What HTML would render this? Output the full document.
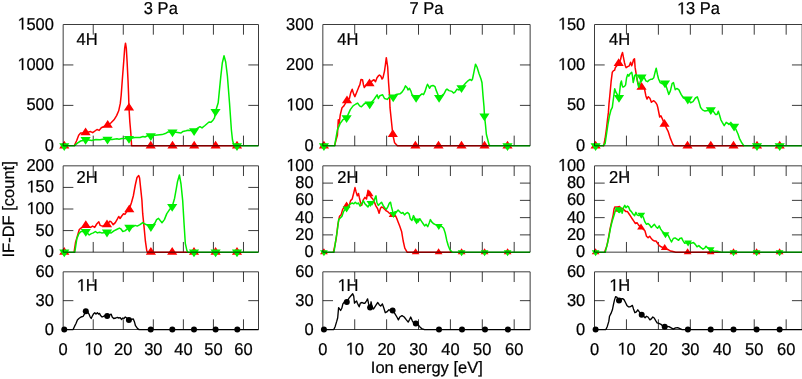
<!DOCTYPE html><html><head><meta charset="utf-8"><style>html,body{margin:0;padding:0;background:#fff;width:802px;height:379px;overflow:hidden}svg{display:block;will-change:transform}text{font-family:"Liberation Sans",sans-serif;font-size:16.5px;fill:#000;stroke:#000;stroke-width:0.22px;text-rendering:geometricPrecision}.h{fill-opacity:0;stroke-opacity:0}.one{fill:#000;stroke:#000;stroke-width:0.22px}</style></head><body>
<svg width="802" height="379" viewBox="0 0 802 379">
<path d="M93.22 145.83v-10.2M93.22 24.5v10.2M123.27 145.83v-10.2M123.27 24.5v10.2M153.32 145.83v-10.2M153.32 24.5v10.2M183.37 145.83v-10.2M183.37 24.5v10.2M213.42 145.83v-10.2M213.42 24.5v10.2M243.47 145.83v-10.2M243.47 24.5v10.2M63.17 105.39h10.2M258.5 105.39h-10.2M63.17 64.94h10.2M258.5 64.94h-10.2M354.72 145.83v-10.2M354.72 24.5v10.2M386.61 145.83v-10.2M386.61 24.5v10.2M418.51 145.83v-10.2M418.51 24.5v10.2M450.4 145.83v-10.2M450.4 24.5v10.2M482.29 145.83v-10.2M482.29 24.5v10.2M514.18 145.83v-10.2M514.18 24.5v10.2M322.83 105.39h10.2M530.13 105.39h-10.2M322.83 64.94h10.2M530.13 64.94h-10.2M626.44 145.83v-10.2M626.44 24.5v10.2M658.39 145.83v-10.2M658.39 24.5v10.2M690.33 145.83v-10.2M690.33 24.5v10.2M722.28 145.83v-10.2M722.28 24.5v10.2M754.22 145.83v-10.2M754.22 24.5v10.2M786.17 145.83v-10.2M786.17 24.5v10.2M594.5 105.39h10.2M802.14 105.39h-10.2M594.5 64.94h10.2M802.14 64.94h-10.2M93.22 252.16v-10.2M93.22 165.83v10.2M123.27 252.16v-10.2M123.27 165.83v10.2M153.32 252.16v-10.2M153.32 165.83v10.2M183.37 252.16v-10.2M183.37 165.83v10.2M213.42 252.16v-10.2M213.42 165.83v10.2M243.47 252.16v-10.2M243.47 165.83v10.2M63.17 230.58h10.2M258.5 230.58h-10.2M63.17 209h10.2M258.5 209h-10.2M63.17 187.41h10.2M258.5 187.41h-10.2M354.72 252.16v-10.2M354.72 165.83v10.2M386.61 252.16v-10.2M386.61 165.83v10.2M418.51 252.16v-10.2M418.51 165.83v10.2M450.4 252.16v-10.2M450.4 165.83v10.2M482.29 252.16v-10.2M482.29 165.83v10.2M514.18 252.16v-10.2M514.18 165.83v10.2M322.83 234.89h10.2M530.13 234.89h-10.2M322.83 217.63h10.2M530.13 217.63h-10.2M322.83 200.36h10.2M530.13 200.36h-10.2M322.83 183.1h10.2M530.13 183.1h-10.2M626.44 252.16v-10.2M626.44 165.83v10.2M658.39 252.16v-10.2M658.39 165.83v10.2M690.33 252.16v-10.2M690.33 165.83v10.2M722.28 252.16v-10.2M722.28 165.83v10.2M754.22 252.16v-10.2M754.22 165.83v10.2M786.17 252.16v-10.2M786.17 165.83v10.2M594.5 234.89h10.2M802.14 234.89h-10.2M594.5 217.63h10.2M802.14 217.63h-10.2M594.5 200.36h10.2M802.14 200.36h-10.2M594.5 183.1h10.2M802.14 183.1h-10.2M93.22 329.5v-10.2M93.22 271.82v10.2M123.27 329.5v-10.2M123.27 271.82v10.2M153.32 329.5v-10.2M153.32 271.82v10.2M183.37 329.5v-10.2M183.37 271.82v10.2M213.42 329.5v-10.2M213.42 271.82v10.2M243.47 329.5v-10.2M243.47 271.82v10.2M63.17 300.66h10.2M258.5 300.66h-10.2M354.72 329.5v-10.2M354.72 271.82v10.2M386.61 329.5v-10.2M386.61 271.82v10.2M418.51 329.5v-10.2M418.51 271.82v10.2M450.4 329.5v-10.2M450.4 271.82v10.2M482.29 329.5v-10.2M482.29 271.82v10.2M514.18 329.5v-10.2M514.18 271.82v10.2M322.83 300.66h10.2M530.13 300.66h-10.2M626.44 329.5v-10.2M626.44 271.82v10.2M658.39 329.5v-10.2M658.39 271.82v10.2M690.33 329.5v-10.2M690.33 271.82v10.2M722.28 329.5v-10.2M722.28 271.82v10.2M754.22 329.5v-10.2M754.22 271.82v10.2M786.17 329.5v-10.2M786.17 271.82v10.2M594.5 300.66h10.2M802.14 300.66h-10.2" fill="none" stroke="#3c3c3c" stroke-width="1"/>
<polyline points="74.2,145.83 76.6,140.7 78.7,135.2 80.6,133.1 83,133 85.6,132.7 90.6,131.6 92.7,132.7 97,129.5 99.2,130.4 101.3,127.7 103.4,126.7 107.7,125.1 110.8,123 114,119.8 116.6,115.6 118.7,110.8 120.3,103.4 121.2,95 122.3,80 123.7,61.7 124.7,48 125.5,43.2 126.3,48 127.1,61.7 128,80 128.6,95 129,108.2 129.8,121.4 130.9,134 131.6,145.83 234,145.83" fill="none" stroke="#ff0000" stroke-width="1.5" stroke-linejoin="round"/>
<path d="M64.27 140.63L69.37 148.43L59.17 148.43ZM85.6 127.5L90.7 135.3L80.5 135.3ZM107.7 119.9L112.8 127.7L102.6 127.7ZM129 102.8L134.1 110.6L123.9 110.6ZM150.7 140.63L155.8 148.43L145.6 148.43ZM172.5 140.63L177.6 148.43L167.4 148.43ZM194.2 140.63L199.3 148.43L189.1 148.43ZM215.6 140.63L220.7 148.43L210.5 148.43ZM237 140.63L242.1 148.43L231.9 148.43Z" fill="#ff0000"/>
<polyline points="63.17,145.83 74.2,145.83 77.4,143.1 80.6,141 83,140.4 85.6,139.5 91.7,140.6 95.9,139.6 100,139.8 104,139 107.5,139.4 112,139.5 117,138.8 119,139.2 122,138.5 129,138.6 135,137.6 140,137.5 143,136.5 145,137 148,135.5 150.8,135.8 155,135.3 162,134.6 166,133.2 168,132 172.5,132 176,132.3 181,133 183,131.4 186,130.8 188,130.2 194.1,130.8 198,127.9 200,126.7 202,127.9 205,125.5 207,123.7 209,122 211,122.3 213,120.2 214.5,117.8 215.5,111.5 218.2,102.8 220.8,76.4 222.3,63 224,55.8 225.7,62 227.4,76 229.5,102.8 231.4,130 232.5,140 234,145.83 258.5,145.83" fill="none" stroke="#00f000" stroke-width="1.5" stroke-linejoin="round"/>
<path d="M64.27 151.03L69.37 143.23L59.17 143.23ZM85.6 144.7L90.7 136.9L80.5 136.9ZM107.5 144.6L112.6 136.8L102.4 136.8ZM129 143.8L134.1 136L123.9 136ZM150.8 141L155.9 133.2L145.7 133.2ZM172.5 137.2L177.6 129.4L167.4 129.4ZM194.1 136L199.2 128.2L189 128.2ZM215.5 116.7L220.6 108.9L210.4 108.9ZM237 151.03L242.1 143.23L231.9 143.23Z" fill="#00f000"/>
<polyline points="334.6,145.83 336,140 337.4,135.4 338.3,119.7 339.2,123.4 340.2,115.1 342,107.7 343.9,105.9 347,100.7 349.4,98.5 350.7,92.9 352.2,89.2 353.6,93.9 354.9,96.6 356.8,92 358.6,87.4 359.9,84.6 361,79.5 362.5,79.7 363.5,85 364.3,87.5 366,85 369.5,83.6 372,81 374,79.7 375.5,81.7 377,77.7 378.5,75.7 379.5,75 381,76.4 382,79 383,77.7 384.5,71.1 385.5,64 386.3,57.7 387.7,67.2 388.6,83 389.6,96.2 390,107.7 391.5,122 392.8,134.5 394.6,142.8 397.4,145.83 490,145.83" fill="none" stroke="#ff0000" stroke-width="1.5" stroke-linejoin="round"/>
<path d="M323.93 140.63L329.03 148.43L318.83 148.43ZM347 95.5L352.1 103.3L341.9 103.3ZM369.5 78.4L374.6 86.2L364.4 86.2ZM392.8 129.3L397.9 137.1L387.7 137.1ZM415.4 140.63L420.5 148.43L410.3 148.43ZM438.5 140.63L443.6 148.43L433.4 148.43ZM461.5 140.63L466.6 148.43L456.4 148.43ZM484.5 140.63L489.6 148.43L479.4 148.43ZM507.5 140.63L512.6 148.43L502.4 148.43Z" fill="#ff0000"/>
<polyline points="322.83,145.83 334.6,145.83 336,138 337.4,129.9 340.2,123.4 342.9,119.7 346.6,117.9 350.3,109.6 353.1,105.9 355.9,104 357.7,103.1 359.6,105.9 361.4,106.8 363.2,104.9 365.1,103.1 369.7,104 373.4,100.3 375.3,97.5 377.1,94.8 378.4,98.5 379.9,95.7 382.6,94.8 384.5,98.5 387.3,99.4 390,96.2 393.2,97 396,94.6 400,93.8 402,92.2 404,89.1 405.5,85.9 407,87.5 408,89.9 409.5,88.3 411,91.4 412,94.6 416.1,97.5 420,95.4 422,93.8 423.5,94.6 425,91.4 426.5,86.7 427.5,84.3 428.5,85.9 429.5,88.3 431,85.9 433,85.4 435,86.7 436,89.9 439.1,97.5 442,95.4 444,93.8 446,89.9 447,89.1 449,90.6 452,91.4 453.5,93 455,92.2 457,89.1 459,90 461.5,87.8 466,82.7 468,80.8 470,79.4 471.5,80.5 472.5,79 474,71.6 475.5,64.2 477,67 479,73.5 481,79 482,82.7 483,95.6 484,106.7 484.5,115.9 485.5,125 486.4,134.5 489,144.5 490,145.83 530.13,145.83" fill="none" stroke="#00f000" stroke-width="1.5" stroke-linejoin="round"/>
<path d="M323.93 151.03L329.03 143.23L318.83 143.23ZM346.6 123.1L351.7 115.3L341.5 115.3ZM369.7 109.2L374.8 101.4L364.6 101.4ZM393.2 102.2L398.3 94.4L388.1 94.4ZM416.1 102.7L421.2 94.9L411 94.9ZM439.1 102.7L444.2 94.9L434 94.9ZM461.5 93L466.6 85.2L456.4 85.2ZM484.4 121.2L489.5 113.4L479.3 113.4ZM507.5 151.03L512.6 143.23L502.4 143.23Z" fill="#00f000"/>
<polyline points="602.9,145.83 603.6,145.83 605.1,138.5 606.5,128.3 607.5,119.6 608.4,112.4 609,103.7 609.8,95.9 611.1,81.7 612.3,72.2 613.5,70.6 614.6,70.3 615.4,67.4 618.7,63.5 620.6,59.5 621.4,55.5 622.5,52.4 623.4,57.1 624.5,62.7 625.3,65.8 626.1,67.7 627.7,66.6 629.3,65.8 630.6,62.3 631.7,65.8 632.5,63.5 633.6,59.5 634.5,58.7 635.1,67.4 636.1,73.7 637.2,80.1 638,83.2 641.5,87.2 644.3,88 645.9,95.9 647,99.1 648.3,96.7 649.9,98.3 651.4,102.2 653.8,100.7 655.4,102.2 657,104.6 657.8,107.5 659.7,117 660.9,115.8 662.6,119.4 664.5,124.1 668.1,131.3 670.4,138.4 672.8,144.3 674,145.83 744,145.83" fill="none" stroke="#ff0000" stroke-width="1.5" stroke-linejoin="round"/>
<path d="M595.6 140.63L600.7 148.43L590.5 148.43ZM618.7 58.3L623.8 66.1L613.6 66.1ZM641.5 82L646.6 89.8L636.4 89.8ZM664.5 118.9L669.6 126.7L659.4 126.7ZM687.5 140.63L692.6 148.43L682.4 148.43ZM710.8 140.63L715.9 148.43L705.7 148.43ZM733.5 140.63L738.6 148.43L728.4 148.43ZM757 140.63L762.1 148.43L751.9 148.43ZM779.7 140.63L784.8 148.43L774.6 148.43Z" fill="#ff0000"/>
<polyline points="594.5,145.83 602.9,145.83 605.1,143.6 606.5,134.1 608,124 609.4,116 610.9,110.2 612.3,107.3 613.5,98 614.7,88.8 615.8,92 619,97.5 619.8,90.4 620.6,83.2 621.4,80.9 622.2,85.6 623,87.2 624.5,86.4 625.6,84.8 626.6,77.7 627.7,74.5 628.8,76.1 630.1,73.7 631.7,72.2 632.5,76.1 633.2,82.5 634,79.3 634.8,75.3 636.1,74.5 637.2,79.3 638,84.8 638.8,87.2 641.5,77.2 644.3,77.7 645.9,80.9 647.5,81.7 649.1,80.1 650.7,79.3 652.2,79.3 653.8,77.7 655.1,72.2 656.2,68.2 657.4,74.2 658.6,79 660.2,82.6 662.1,83.7 665,83 666.9,88.5 668.8,94.4 670.4,90.9 672.1,83.7 673.5,82.6 675.2,89.7 676.8,88.5 678.8,89.7 681.1,94.4 683.5,98 687.8,99.2 690.6,102.7 693,101.6 695.4,98 697.3,96.8 698.9,101.6 700.6,107.5 702.5,109.9 704.9,111.1 710.8,109.9 713.2,111.1 715.6,114.6 717,114.5 718.3,111.2 719.6,115.2 720.9,119.8 722.3,122.4 724.2,125.7 726.2,122.4 727.5,123.1 728.9,124.4 730.8,122.4 734.1,126.4 736.1,129.7 738.1,134.3 739.4,138.3 741.4,142.2 744,145.83 802.14,145.83" fill="none" stroke="#00f000" stroke-width="1.5" stroke-linejoin="round"/>
<path d="M595.6 151.03L600.7 143.23L590.5 143.23ZM619 102.7L624.1 94.9L613.9 94.9ZM641.5 82.4L646.6 74.6L636.4 74.6ZM665 88.2L670.1 80.4L659.9 80.4ZM687.8 104.4L692.9 96.6L682.7 96.6ZM710.8 115.1L715.9 107.3L705.7 107.3ZM734.1 131.6L739.2 123.8L729 123.8ZM757 151.03L762.1 143.23L751.9 143.23ZM779.7 151.03L784.8 143.23L774.6 143.23Z" fill="#00f000"/>
<polyline points="74.1,252.16 75.5,242.5 77.5,235.7 79.3,229.5 81,228.1 85.8,225.4 90.6,227.4 92.6,226.1 94.7,227.4 96.7,224 98.8,221.7 100.2,225.4 102.2,226.1 107,224.7 109.8,221.3 111.2,221.9 113.2,224.7 115.3,222.6 117.3,219.2 118.7,216.5 120.1,218.5 121.4,216.5 123.5,213.7 124.9,214.4 126.2,212.3 129.3,208.9 131.5,202.5 133.3,196 135.3,185 137,177.5 138.7,175.6 139.6,178.1 140.7,188.7 141.9,200 142.7,213.7 144.1,227.4 145.4,241.2 146.8,250.8 147.5,252.16 188,252.16" fill="none" stroke="#ff0000" stroke-width="1.5" stroke-linejoin="round"/>
<path d="M64.27 246.96L69.37 254.76L59.17 254.76ZM85.8 220.2L90.9 228L80.7 228ZM107 219.5L112.1 227.3L101.9 227.3ZM129.3 204.4L134.4 212.2L124.2 212.2ZM150.9 246.96L156 254.76L145.8 254.76ZM172.2 246.96L177.3 254.76L167.1 254.76ZM194 246.96L199.1 254.76L188.9 254.76ZM215.6 246.96L220.7 254.76L210.5 254.76ZM237 246.96L242.1 254.76L231.9 254.76Z" fill="#ff0000"/>
<polyline points="63.17,252.16 74.8,252.16 76.9,238.4 78.9,233.6 81,231.5 85.8,231.5 89.2,235 91.3,233.6 93.3,232.9 95.4,231.5 97.4,232.9 99.5,232.2 101.6,232.9 107,232.2 111.2,232.9 113.9,230.9 116.6,229.5 119.4,228.1 120.8,228.8 122.8,231.5 124.9,230.9 129.3,227.4 133.1,226.7 135.2,225.4 137.2,226.1 140,224.7 142.7,222.6 144.8,224 148.2,225.4 150.9,226.7 154.9,223.1 156.6,219.6 158.5,218.4 160.4,220.8 162,222.7 164.4,219.6 166.8,213.6 169.2,210.1 172.2,206.5 174.6,198.2 176.3,188.7 177.5,181.6 179.4,175 181,184 182.7,200.6 184.1,224.3 185.3,243.3 187,250.8 188,252.16 258.5,252.16" fill="none" stroke="#00f000" stroke-width="1.5" stroke-linejoin="round"/>
<path d="M64.27 257.36L69.37 249.56L59.17 249.56ZM85.8 236.7L90.9 228.9L80.7 228.9ZM107 237.4L112.1 229.6L101.9 229.6ZM129.3 232.6L134.4 224.8L124.2 224.8ZM150.9 231.9L156 224.1L145.8 224.1ZM172.2 211.7L177.3 203.9L167.1 203.9ZM194 257.36L199.1 249.56L188.9 249.56ZM215.6 257.36L220.7 249.56L210.5 249.56ZM237 257.36L242.1 249.56L231.9 249.56Z" fill="#00f000"/>
<polyline points="333.4,252.16 335,245 336.3,238 337.9,224.4 339.5,216.4 341.1,214.9 342.7,209.3 344.3,206.9 346.6,205.4 349,206.1 350.6,200.6 352.2,199 353.8,192.7 355,187.6 356.1,191.9 357.3,195.8 358.5,193.5 359.3,197.4 360.4,202.2 361.7,205.4 363.3,199.8 364.9,197.4 366.5,199 368,190.3 369.6,194.3 371.2,197.4 372.8,199 374.4,202.2 376,206.1 377.5,208.5 379.1,213.3 380.4,208.5 381.5,206.9 383.1,207.7 384.7,209.3 386.3,210.9 387.8,211.7 389.4,213.3 392.6,214.9 395,214.9 396.6,218 398.1,222 399.7,226 401.6,231.4 403.2,241 404.8,248.1 407.1,252.16 452.3,252.16" fill="none" stroke="#ff0000" stroke-width="1.5" stroke-linejoin="round"/>
<path d="M323.93 248.16L327.83 254.16L320.03 254.16ZM346.6 201.4L350.5 207.4L342.7 207.4ZM369.6 190.3L373.5 196.3L365.7 196.3ZM392.6 210.9L396.5 216.9L388.7 216.9ZM415.6 248.16L419.5 254.16L411.7 254.16ZM438.6 248.16L442.5 254.16L434.7 254.16ZM461.6 248.16L465.5 254.16L457.7 254.16ZM484.6 248.16L488.5 254.16L480.7 254.16ZM507.6 248.16L511.5 254.16L503.7 254.16Z" fill="#ff0000"/>
<polyline points="322.83,252.16 334,252.16 335.8,240 337.1,232 338.7,219.6 340.3,218 341.9,216.4 343.5,211.7 345.1,209.3 346.6,208.5 349,205.4 350.6,203.8 352.2,203 353.8,203.8 355.3,202.2 356.9,203.8 358.5,203 360.1,206.1 361.7,203.8 363.3,200.6 364.9,203.8 366.5,205.4 368,206.9 370.4,203 372,204.6 373.6,202.2 375.2,197.4 376,195.8 376.8,202.2 378.3,205.4 379.9,203.8 381.5,202.2 383.1,205.4 384.7,207.7 386.3,209.3 387.8,206.9 389.4,203 390.5,202.2 391.5,206.9 393.4,214.1 395,211.7 396.6,211.7 398.1,210.1 399.7,211.7 401.3,213.3 402.9,212.5 404.5,214.9 406,213.3 407.6,212.5 409.2,214.1 410.3,218.8 411.9,220.4 413.5,215.6 415.1,218.8 416.6,220.4 418.2,221.9 419.8,218.8 421.4,221.1 423,223.5 424.6,225.9 426.1,224.3 427.7,226.7 429.3,222.7 430.4,219.6 431.7,221.9 433.3,223.5 434.9,224.3 436.4,225.1 438.8,225.9 440.4,225.9 442,226.7 443.6,228.3 445.2,233 446.7,240.2 448.3,245.7 449.9,249.7 452.3,252.16 530.13,252.16" fill="none" stroke="#00f000" stroke-width="1.5" stroke-linejoin="round"/>
<path d="M323.93 256.16L327.83 250.16L320.03 250.16ZM346.6 212.5L350.5 206.5L342.7 206.5ZM370.4 207L374.3 201L366.5 201ZM393.4 218.1L397.3 212.1L389.5 212.1ZM416.6 224.4L420.5 218.4L412.7 218.4ZM438.8 229.9L442.7 223.9L434.9 223.9ZM461.6 256.16L465.5 250.16L457.7 250.16ZM484.6 256.16L488.5 250.16L480.7 250.16ZM507.6 256.16L511.5 250.16L503.7 250.16Z" fill="#00f000"/>
<polyline points="604.5,252.16 606.9,245.7 608.5,237.8 610,229.1 611.6,221.9 613.2,214.8 614,209.3 614.8,206.9 616.4,206.9 618,206.9 619.6,206.4 621.1,209.3 622.7,208.5 624.3,210.1 625.9,211.6 627.5,211.6 629.1,214 630.7,216.4 632.2,218.8 633.8,221.1 635.4,223.5 637,222.7 638.6,225.1 641,227.5 643.3,229.1 644.9,230.7 646.5,236.2 648.1,237.8 649.7,236.2 651.3,238.6 652.8,240.2 654.4,241 656,241 657.6,243.3 659.2,245.7 660.7,246.5 662.3,247.3 664.7,248.1 666.8,249.2 668.6,249.8 670.3,251 672,251.3 675.7,252.16 720.8,252.16" fill="none" stroke="#ff0000" stroke-width="1.5" stroke-linejoin="round"/>
<path d="M595.6 248.16L599.5 254.16L591.7 254.16ZM618.2 205.8L622.1 211.8L614.3 211.8ZM641 223.5L644.9 229.5L637.1 229.5ZM664.7 244.1L668.6 250.1L660.8 250.1ZM687.6 248.16L691.5 254.16L683.7 254.16ZM710.7 248.16L714.6 254.16L706.8 254.16ZM733.5 248.16L737.4 254.16L729.6 254.16ZM756.6 248.16L760.5 254.16L752.7 254.16ZM779.6 248.16L783.5 254.16L775.7 254.16Z" fill="#ff0000"/>
<polyline points="594.5,252.16 605.3,252.16 607.7,242.5 609.3,234.6 610.8,226.7 612.4,220.4 614,215.6 615.3,210.8 616.4,208.5 618.5,209.3 619.6,212.4 621.1,209.3 622.2,213.2 623.5,207.7 624.8,205.3 625.9,207.7 627.5,206.1 628.6,206.9 629.9,210.1 631.4,211.6 633,214 634.6,215.6 635.9,212.4 637,214.8 638.6,215.6 641.3,214.8 643.3,217.2 644.9,221.9 646.5,224.3 648.1,223.5 649.7,225.1 651.3,227.5 652.8,225.9 654.4,224.3 656,226.7 657.6,228.3 659.2,225.9 660.7,229.1 662.3,231.4 665.5,234.3 668,234.9 669.7,238.5 671.5,242 673.3,238.5 675.1,237.9 676.9,239.1 678.6,240.3 679.8,238.5 681.6,237.9 682.8,240.3 684.6,243.2 688.1,242.6 691.1,243.2 693.5,242.6 695.3,244.4 697,246.8 698.8,245.6 700.6,247.4 703,249.2 704.8,248 706,246.2 707.7,248 710.7,249.2 713.7,251 717.2,251.3 720.8,252.16 802.14,252.16" fill="none" stroke="#00f000" stroke-width="1.5" stroke-linejoin="round"/>
<path d="M595.6 256.16L599.5 250.16L591.7 250.16ZM618.5 213.3L622.4 207.3L614.6 207.3ZM641.3 218.8L645.2 212.8L637.4 212.8ZM665.5 238.3L669.4 232.3L661.6 232.3ZM688.1 246.6L692 240.6L684.2 240.6ZM710.7 253.2L714.6 247.2L706.8 247.2ZM733.5 256.16L737.4 250.16L729.6 250.16ZM756.6 256.16L760.5 250.16L752.7 250.16ZM779.6 256.16L783.5 250.16L775.7 250.16Z" fill="#00f000"/>
<polyline points="63.17,329.6 73.1,329.6 74.5,326.4 76,323.5 77.4,319.9 78.9,318.5 81,317 83.2,316.3 84.4,314.1 85.8,311.2 87.6,311.9 89,314.1 90.2,317 91.2,318.5 92.2,316.3 93.4,314.1 94.8,312.7 96,314.1 97.4,312.7 98.5,314.1 99.5,313.4 100.6,315.6 102.1,317 103.5,316.3 105,315.6 107.2,316 109.3,315.6 111.1,314.1 112.2,317 113.7,318.5 115.9,318 117.3,317.4 118.8,318 120.2,317.7 121.7,319.5 122.7,318 123.9,318.5 125.3,317 126.8,318 128.9,319.9 131.1,319.5 133.3,318.9 134.3,321.4 135.5,325.7 137.6,328.6 139.1,329.6 258.5,329.6" fill="none" stroke="#000" stroke-width="1.35" stroke-linejoin="round"/>
<g fill="#000"><circle cx="64.27" cy="329.6" r="3"/><circle cx="85.8" cy="311.2" r="3"/><circle cx="107.2" cy="316" r="3"/><circle cx="128.9" cy="319.9" r="3"/><circle cx="150.7" cy="329.6" r="3"/><circle cx="172.3" cy="329.6" r="3"/><circle cx="194" cy="329.6" r="3"/><circle cx="215.6" cy="329.6" r="3"/><circle cx="237.3" cy="329.6" r="3"/></g>
<polyline points="322.83,329.6 333.8,329.6 335.2,326.4 336.7,321.4 337.7,317.7 338.6,307.6 339.6,309 340.6,310.5 341.8,308.3 342.9,303.9 344.4,301.8 346.8,302.1 349,298.1 350.8,296 352.7,293.8 353.7,296 354.5,303.2 355.6,301.8 356.6,301 357.4,303.2 358.5,305.4 359.2,306.8 360.3,303.2 362.1,302.5 363.5,303.2 365,303.2 366.4,301 367.6,298.9 368.6,303.9 370.1,307.6 371.1,301.8 372,306.8 373.4,309 374.9,306.8 376.3,304.7 377.8,302.5 379.2,304.7 380.7,306.1 382.4,303.9 383.9,308.3 385.3,312.7 386.8,311.9 388.9,309.8 392.6,310.5 394.7,313.4 396.9,317 398.4,319.9 399.8,317 402,315.6 404.2,317 406.4,319.9 408.2,322.1 409.7,319.2 410.7,317 412.2,320.6 413.6,322.8 415.8,323.5 418,324.3 419.4,326.4 421.6,328.6 424.5,329.6 530.13,329.6" fill="none" stroke="#000" stroke-width="1.35" stroke-linejoin="round"/>
<g fill="#000"><circle cx="323.93" cy="329.6" r="3"/><circle cx="346.8" cy="302.1" r="3"/><circle cx="370.1" cy="307.6" r="3"/><circle cx="392.6" cy="310.5" r="3"/><circle cx="415.8" cy="323.5" r="3"/><circle cx="439" cy="329.6" r="3"/><circle cx="462" cy="329.6" r="3"/><circle cx="485" cy="329.6" r="3"/><circle cx="507.9" cy="329.6" r="3"/></g>
<polyline points="594.5,329.6 605.9,329.6 607.3,326.4 608.8,321.4 609.5,316.3 611,313.4 612.4,309.8 613.6,303.9 614.6,299.6 615.6,296.7 616.8,297.1 619,300.6 620.8,298.9 622.6,298.6 624,299.6 625.5,302.5 626.9,305.4 628.4,306.8 629.8,306.8 631.3,306.1 632.4,305.4 633.5,309 634.9,312.7 636.4,311.9 637.8,309.8 639.3,311.9 641.7,314.8 643.6,316.3 645.1,317.7 646.5,316.3 648,317 649.9,319.9 651.3,318.9 652.8,317 654.2,318 655.7,320.6 657.1,322.8 658.9,323.3 661,324.3 662.9,326.4 664.7,326.7 666.8,326.4 669,326.7 671.2,327.9 673.4,329.1 675.5,327.9 677.7,327.6 679.9,328.6 682.1,329.6 802.14,329.6" fill="none" stroke="#000" stroke-width="1.35" stroke-linejoin="round"/>
<g fill="#000"><circle cx="595.6" cy="329.6" r="3"/><circle cx="619" cy="300.6" r="3"/><circle cx="641.7" cy="314.8" r="3"/><circle cx="664.7" cy="326.7" r="3"/><circle cx="687.9" cy="329.6" r="3"/><circle cx="710.7" cy="329.6" r="3"/><circle cx="733.5" cy="329.6" r="3"/><circle cx="756.6" cy="329.6" r="3"/><circle cx="779.6" cy="329.6" r="3"/></g>
<path d="M63.17 24.5H258.5V145.83H63.17ZM322.83 24.5H530.13V145.83H322.83ZM594.5 24.5H802.14V145.83H594.5ZM63.17 165.83H258.5V252.16H63.17ZM322.83 165.83H530.13V252.16H322.83ZM594.5 165.83H802.14V252.16H594.5ZM63.17 271.82H258.5V329.5H63.17ZM322.83 271.82H530.13V329.5H322.83ZM594.5 271.82H802.14V329.5H594.5Z" fill="none" stroke="#3c3c3c" stroke-width="1" style="mix-blend-mode:multiply"/>
<g class="t"><text transform="translate(143.86 14.2) scale(1 1.0412)">3 Pa</text><text transform="translate(409.51 14.2) scale(1 1.0412)">7 Pa</text><text transform="translate(676.76 14.2) scale(1 1.0412)"><tspan class="h">1</tspan>3 Pa</text><text transform="translate(44.74 150.88) scale(1 1.0412)">0</text><text transform="translate(26.39 110.44) scale(1 1.0412)">500</text><text transform="translate(17.21 69.99) scale(1 1.0412)"><tspan class="h">1</tspan>000</text><text transform="translate(17.21 29.55) scale(1 1.0412)"><tspan class="h">1</tspan>500</text><text transform="translate(76.52 45.1) scale(1 1.0412)">4H</text><text transform="translate(304.4 150.88) scale(1 1.0412)">0</text><text transform="translate(286.05 110.44) scale(1 1.0412)"><tspan class="h">1</tspan>00</text><text transform="translate(286.05 69.99) scale(1 1.0412)">200</text><text transform="translate(286.05 29.55) scale(1 1.0412)">300</text><text transform="translate(337.33 45.1) scale(1 1.0412)">4H</text><text transform="translate(576.07 150.88) scale(1 1.0412)">0</text><text transform="translate(566.9 110.44) scale(1 1.0412)">50</text><text transform="translate(557.72 69.99) scale(1 1.0412)"><tspan class="h">1</tspan>00</text><text transform="translate(557.72 29.55) scale(1 1.0412)"><tspan class="h">1</tspan>50</text><text transform="translate(609 45.1) scale(1 1.0412)">4H</text><text transform="translate(44.74 257.21) scale(1 1.0412)">0</text><text transform="translate(35.57 235.63) scale(1 1.0412)">50</text><text transform="translate(26.39 214.05) scale(1 1.0412)"><tspan class="h">1</tspan>00</text><text transform="translate(26.39 192.46) scale(1 1.0412)"><tspan class="h">1</tspan>50</text><text transform="translate(26.39 170.88) scale(1 1.0412)">200</text><text transform="translate(76.52 182.9) scale(1 1.0412)">2H</text><text transform="translate(304.4 257.21) scale(1 1.0412)">0</text><text transform="translate(295.23 239.94) scale(1 1.0412)">20</text><text transform="translate(295.23 222.68) scale(1 1.0412)">40</text><text transform="translate(295.23 205.41) scale(1 1.0412)">60</text><text transform="translate(295.23 188.15) scale(1 1.0412)">80</text><text transform="translate(286.05 170.88) scale(1 1.0412)"><tspan class="h">1</tspan>00</text><text transform="translate(337.33 182.9) scale(1 1.0412)">2H</text><text transform="translate(576.07 257.21) scale(1 1.0412)">0</text><text transform="translate(566.9 239.94) scale(1 1.0412)">20</text><text transform="translate(566.9 222.68) scale(1 1.0412)">40</text><text transform="translate(566.9 205.41) scale(1 1.0412)">60</text><text transform="translate(566.9 188.15) scale(1 1.0412)">80</text><text transform="translate(557.72 170.88) scale(1 1.0412)"><tspan class="h">1</tspan>00</text><text transform="translate(609 182.9) scale(1 1.0412)">2H</text><text transform="translate(44.74 334.55) scale(1 1.0412)">0</text><text transform="translate(35.57 305.71) scale(1 1.0412)">30</text><text transform="translate(35.57 276.87) scale(1 1.0412)">60</text><text transform="translate(76.52 291.12) scale(1 1.0412)"><tspan class="h">1</tspan>H</text><text transform="translate(304.4 334.55) scale(1 1.0412)">0</text><text transform="translate(295.23 305.71) scale(1 1.0412)">30</text><text transform="translate(295.23 276.87) scale(1 1.0412)">60</text><text transform="translate(337.33 291.12) scale(1 1.0412)"><tspan class="h">1</tspan>H</text><text transform="translate(576.07 334.55) scale(1 1.0412)">0</text><text transform="translate(566.9 305.71) scale(1 1.0412)">30</text><text transform="translate(566.9 276.87) scale(1 1.0412)">60</text><text transform="translate(609 291.12) scale(1 1.0412)"><tspan class="h">1</tspan>H</text><text transform="translate(58.58 354.5) scale(1 1.0412)">0</text><text transform="translate(84.04 354.5) scale(1 1.0412)"><tspan class="h">1</tspan>0</text><text transform="translate(114.1 354.5) scale(1 1.0412)">20</text><text transform="translate(144.15 354.5) scale(1 1.0412)">30</text><text transform="translate(174.2 354.5) scale(1 1.0412)">40</text><text transform="translate(204.25 354.5) scale(1 1.0412)">50</text><text transform="translate(234.3 354.5) scale(1 1.0412)">60</text><text transform="translate(318.24 354.5) scale(1 1.0412)">0</text><text transform="translate(345.55 354.5) scale(1 1.0412)"><tspan class="h">1</tspan>0</text><text transform="translate(377.44 354.5) scale(1 1.0412)">20</text><text transform="translate(409.33 354.5) scale(1 1.0412)">30</text><text transform="translate(441.22 354.5) scale(1 1.0412)">40</text><text transform="translate(473.12 354.5) scale(1 1.0412)">50</text><text transform="translate(505.01 354.5) scale(1 1.0412)">60</text><text transform="translate(589.91 354.5) scale(1 1.0412)">0</text><text transform="translate(617.27 354.5) scale(1 1.0412)"><tspan class="h">1</tspan>0</text><text transform="translate(649.21 354.5) scale(1 1.0412)">20</text><text transform="translate(681.16 354.5) scale(1 1.0412)">30</text><text transform="translate(713.1 354.5) scale(1 1.0412)">40</text><text transform="translate(745.05 354.5) scale(1 1.0412)">50</text><text transform="translate(776.99 354.5) scale(1 1.0412)">60</text><text transform="translate(370.83 372.6) scale(1 1.0000)">Ion energy [eV]</text><text transform="translate(14.2 209.35) rotate(-90) scale(1 1.0000)" text-anchor="middle">IF-DF [count]</text></g>
<path class="one" d="M681.39 14.2V3.82L678.69 5.73V4.3L681.51 2.38H682.85V14.2ZM21.85 69.99V59.62L19.15 61.52V60.1L21.97 58.17H23.3V69.99ZM21.85 29.55V19.17L19.15 21.08V19.65L21.97 17.73H23.3V29.55ZM290.68 110.44V100.06L287.98 101.96V100.54L290.8 98.62H292.14V110.44ZM562.35 69.99V59.62L559.65 61.52V60.1L562.47 58.17H563.81V69.99ZM562.35 29.55V19.17L559.65 21.08V19.65L562.47 17.73H563.81V29.55ZM31.02 214.05V203.67L28.32 205.57V204.15L31.14 202.23H32.48V214.05ZM31.02 192.46V182.09L28.32 183.99V182.56L31.14 180.64H32.48V192.46ZM290.68 170.88V160.5L287.98 162.41V160.98L290.8 159.06H292.14V170.88ZM562.35 170.88V160.5L559.65 162.41V160.98L562.47 159.06H563.81V170.88ZM81.15 291.12V280.74L78.45 282.65V281.22L81.27 279.3H82.61V291.12ZM341.96 291.12V280.74L339.26 282.65V281.22L342.08 279.3H343.42V291.12ZM613.63 291.12V280.74L610.93 282.65V281.22L613.75 279.3H615.09V291.12ZM88.68 354.5V344.12L85.98 346.03V344.6L88.8 342.68H90.14V354.5ZM350.18 354.5V344.12L347.48 346.03V344.6L350.3 342.68H351.64V354.5ZM621.9 354.5V344.12L619.2 346.03V344.6L622.02 342.68H623.36V354.5Z"/>
</svg></body></html>
